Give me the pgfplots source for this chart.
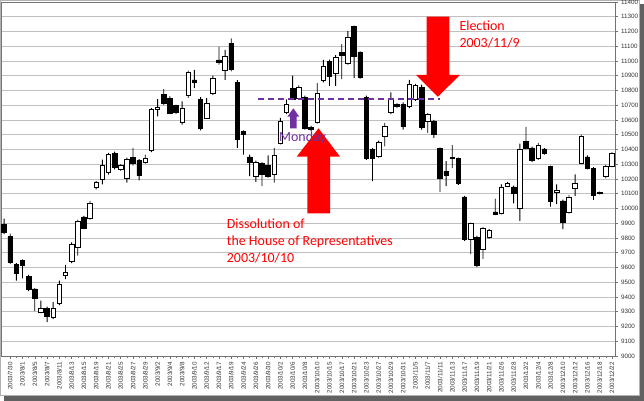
\documentclass[border=0pt]{standalone}
\usepackage{fontspec}
\setmainfont{Liberation Sans}
\newfontfamily\annfont{Carlito}
\usepackage{pgfplots}
\usepackage{pgfplotstable}
\pgfplotsset{compat=1.18}

\definecolor{gridc}{RGB}{192,192,192}
\definecolor{purp}{RGB}{112,48,160}

% day index, open, high, low, close  (day 0 = 2003/7/29)
\pgfplotstableread{
k o h l c
0 9894 9932 9826 9838
1 9810 9830 9625 9635
2 9619 9630 9511 9563
3 9646 9655 9527 9612
4 9540 9550 9440 9455
5 9455 9460 9304 9388
6 9297 9376 9290 9324
7 9324 9335 9230 9268
8 9259 9365 9250 9324
9 9354 9511 9345 9489
10 9549 9617 9522 9567
11 9642 9770 9630 9754
12 9736 9925 9680 9916
13 9943 9950 9860 9867
14 9934 10051 9925 10033
15 10141 10185 10130 10175
16 10197 10332 10164 10294
17 10242 10377 10230 10366
18 10373 10385 10265 10281
19 10265 10300 10255 10294
20 10204 10345 10175 10332
21 10348 10411 10290 10303
22 10326 10335 10191 10224
23 10314 10366 10305 10339
24 10393 10680 10382 10670
25 10670 10742 10625 10688
26 10776 10809 10700 10715
27 10746 10760 10640 10647
28 10697 10705 10640 10652
29 10584 10726 10569 10681
30 10764 10935 10750 10922
31 10872 10940 10816 10857
32 10742 10755 10530 10546
33 10614 10749 10607 10715
34 10782 10900 10770 10884
35 11007 11097 10975 10989
36 10935 11075 10872 11030
37 11120 11154 10930 10940
38 10854 10870 10411 10472
39 10524 10530 10366 10501
40 10350 10366 10220 10310
41 10220 10325 10180 10314
42 10303 10315 10152 10231
43 10294 10360 10210 10220
44 10231 10411 10175 10362
45 10445 10614 10435 10591
46 10650 10740 10640 10708
47 10812 10900 10735 10742
48 10749 10835 10740 10821
49 10755 10765 10535 10546
50 10550 10560 10525 10535
51 10584 10850 10575 10782
52 10868 11007 10855 10967
53 10996 11010 10832 10899
54 10917 11040 10832 11025
55 11057 11115 10877 11039
56 10985 11205 10975 11160
57 11232 11240 10884 11030
58 11057 11065 10880 10890
59 10753 10765 10330 10337
60 10400 10410 10186 10337
61 10355 10460 10345 10450
62 10490 10580 10422 10558
63 10652 10787 10640 10737
64 10704 10715 10680 10692
65 10708 10720 10535 10557
66 10692 10872 10680 10845
67 10737 10845 10730 10832
68 10823 10839 10535 10551
69 10591 10647 10512 10636
70 10591 10600 10479 10506
71 10407 10415 10112 10204
72 10254 10321 10152 10227
73 10344 10429 10276 10337
74 10337 10345 10160 10168
75 10078 10085 9780 9788
76 9792 9905 9691 9898
77 9804 9815 9605 9612
78 9725 9875 9658 9864
79 9804 9860 9795 9853
80 9977 10067 9955 9961
81 9968 10164 9960 10146
82 10152 10180 10145 10168
83 10146 10155 10035 10101
84 10002 10440 9916 10404
85 10452 10553 10400 10407
86 10411 10420 10315 10326
87 10337 10445 10330 10429
88 10404 10410 10365 10373
89 10283 10290 10013 10047
90 10108 10164 10029 10126
91 10051 10060 9860 9909
92 9972 10090 9965 10078
93 10137 10231 10085 10168
94 10306 10500 10300 10490
95 10350 10360 10265 10272
96 10272 10280 10058 10092
97 10108 10115 10095 10101
98 10215 10295 10205 10287
99 10287 10380 10280 10373
}\candles

\pgfplotsset{
  candle/.style={
    at={(1bp,45bp)}, anchor=south west,
    width=614bp, height=354bp, scale only axis,
    xmin=-0.5, xmax=99.5, ymin=9000, ymax=11400,
  }
}

\begin{document}
\begin{tikzpicture}
\useasboundingbox (0,0) rectangle (644bp,401bp);
% frame with drop shadow
\fill[black!62] (4bp,0) rectangle (644bp,397bp);
\fill[white] (0,5bp) rectangle (640bp,401bp);
\draw[black!30, line width=1bp] (0.5bp,5.5bp) rectangle (639.5bp,400.5bp);

% axis, grid and wicks
\begin{axis}[candle,
  ybar stacked, bar width=0.9bp,
  axis line style={draw=black!55},
  ymajorgrids, grid style={gridc, line width=0.9bp},
  ytick={9000,9100,...,11400},
  scaled y ticks=false,
  ytick pos=right, yticklabel pos=right,
  xtick={1,3,...,99}, minor x tick num=1,
  xtick pos=left,
  xticklabels={2003/7/30,2003/8/1,2003/8/5,2003/8/7,2003/8/11,2003/8/13,2003/8/15,2003/8/19,2003/8/21,2003/8/25,2003/8/27,2003/8/29,2003/9/2,2003/9/4,2003/9/8,2003/9/10,2003/9/12,2003/9/17,2003/9/19,2003/9/24,2003/9/26,2003/9/30,2003/10/2,2003/10/6,2003/10/8,2003/10/10,2003/10/15,2003/10/17,2003/10/21,2003/10/23,2003/10/27,2003/10/29,2003/10/31,2003/11/5,2003/11/7,2003/11/11,2003/11/13,2003/11/17,2003/11/19,2003/11/21,2003/11/26,2003/11/28,2003/12/2,2003/12/4,2003/12/8,2003/12/10,2003/12/12,2003/12/16,2003/12/18,2003/12/22},
  tick align=outside, major tick length=2.5bp, minor tick length=2bp,
  tick style={black!55, line width=0.5bp},
  tick label style={font=\fontsize{6.3}{7}\selectfont, text=black!80},
  xticklabel style={rotate=90, anchor=east},
  yticklabel style={anchor=west, /pgf/number format/fixed, /pgf/number format/precision=0},
  /pgf/number format/assume math mode=true,
  /pgf/number format/1000 sep={},
]
\addplot[draw=none, fill=none] table[x=k, y=l] {\candles};
\addplot[draw=none, fill=black] table[x=k, y expr=\thisrow{h}-\thisrow{l}] {\candles};
\end{axis}

% candle bodies
\begin{axis}[candle, hide axis, ybar stacked, bar width=0.74]
\addplot[draw=none, fill=none] table[x=k, y expr={min(\thisrow{o},\thisrow{c})}] {\candles};
\addplot[draw=black, fill=white, line width=0.7bp] table[x=k, y expr={max(\thisrow{c}-\thisrow{o},0)}] {\candles};
\addplot[draw=black, fill=black, line width=0.7bp] table[x=k, y expr={max(\thisrow{o}-\thisrow{c},0)}] {\candles};
\end{axis}

% level line
\begin{axis}[candle, hide axis]
\addplot[purp, line width=1.4bp, dash pattern=on 6bp off 4bp] coordinates {(41.4,10743) (71.0,10743)};
\end{axis}

% arrows and notes
\fill[red] (318.5bp,272.7bp) -- (340bp,244.3bp) -- (330bp,244.3bp) -- (330bp,187.7bp)
  -- (307.3bp,187.7bp) -- (307.3bp,244.3bp) -- (296.7bp,244.3bp) -- cycle;
\fill[red] (426.7bp,384.3bp) -- (449.3bp,384.3bp) -- (449.3bp,326bp) -- (460bp,326bp)
  -- (437.8bp,304.3bp) -- (416bp,326bp) -- (426.7bp,326bp) -- cycle;
\fill[purp] (293.3bp,292.7bp) -- (299.3bp,284.3bp) -- (296.5bp,284.3bp) -- (296.5bp,272.7bp)
  -- (290.1bp,272.7bp) -- (290.1bp,284.3bp) -- (287.3bp,284.3bp) -- cycle;

\begin{scope}[every node/.style={inner sep=0pt, anchor=base west,
    font=\annfont\fontsize{14}{17}\selectfont}]
\node[text=purp] at (279bp,259.3bp) {Monday};
\node[text=red] at (226.7bp,172bp) {Dissolution of};
\node[text=red] at (226.7bp,155.3bp) {the House of Representatives};
\node[text=red] at (226.7bp,138bp) {2003/10/10};
\node[text=red] at (459.3bp,370.3bp) {Election};
\node[text=red] at (459.3bp,353.7bp) {2003/11/9};
\end{scope}
\end{tikzpicture}
\end{document}
